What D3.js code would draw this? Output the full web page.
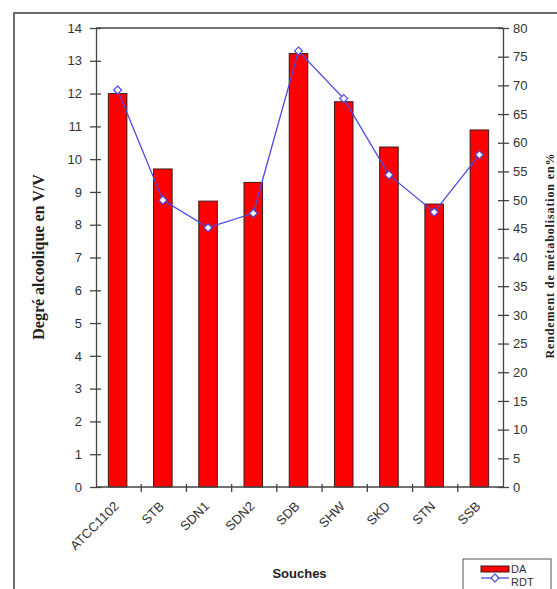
<!DOCTYPE html>
<html>
<head>
<meta charset="utf-8">
<script src="https://cdn.jsdelivr.net/npm/d3@7/dist/d3.min.js"></script>
<style>
  html, body { margin: 0; padding: 0; background: #fff; }
  svg { display: block; }
</style>
</head>
<body>
<script>
// Strains (souches), alcohol degree (DA, % V/V) and metabolisation yield (RDT, %)
const souches = ["ATCC1102", "STB", "SDN1", "SDN2", "SDB", "SHW", "SKD", "STN", "SSB"];
const da = [12.0, 9.7, 8.72, 9.29, 13.22, 11.75, 10.37, 8.63, 10.89];
const rdt = [69.2, 50.0, 45.2, 47.7, 76.0, 67.7, 54.4, 47.9, 57.9];
const leftTicks = [0, 1, 2, 3, 4, 5, 6, 7, 8, 9, 10, 11, 12, 13, 14];
const rightTicks = [0, 5, 10, 15, 20, 25, 30, 35, 40, 45, 50, 55, 60, 65, 70, 75, 80];

const W = 557, H = 589;
const plot = { left: 96, right: 503, top: 28, bottom: 487 };

const svg = d3.select("body").append("svg").attr("width", W).attr("height", H);

// outer frame
svg.append("rect")
  .attr("x", 14).attr("y", 13).attr("width", 570).attr("height", 600)
  .attr("fill", "none").attr("stroke", "#6b6b6b").attr("stroke-width", 2);

const x = d3.scaleBand().domain(souches).range([plot.left, plot.right]).padding(0);
const yL = d3.scaleLinear().domain([0, 14]).range([plot.bottom, plot.top]);
const yR = d3.scaleLinear().domain([0, 80]).range([plot.bottom, plot.top]);
const cx = d => x(d) + x.bandwidth() / 2 - 1;

// top border of plot area
svg.append("line")
  .attr("x1", plot.left).attr("x2", plot.right)
  .attr("y1", plot.top).attr("y2", plot.top)
  .attr("stroke", "#444").attr("stroke-width", 1.3);

const tickFont = "'Liberation Sans', Arial, sans-serif";

// left axis
const gL = svg.append("g").attr("transform", `translate(${plot.left},0)`)
  .call(d3.axisLeft(yL).tickValues(leftTicks).tickSize(6).tickSizeOuter(0).tickPadding(8));
gL.selectAll(".tick line").attr("x2", -6).attr("x1", 5);
// right axis
const gR = svg.append("g").attr("transform", `translate(${plot.right},0)`)
  .call(d3.axisRight(yR).tickValues(rightTicks).tickSize(6).tickSizeOuter(0).tickPadding(4));
gR.selectAll(".tick line").attr("x1", -5).attr("x2", 6);

[gL, gR].forEach(g => {
  g.select(".domain").attr("stroke", "#444").attr("stroke-width", 1.3);
  g.selectAll(".tick line").attr("stroke", "#444").attr("stroke-width", 1.3);
  g.selectAll(".tick text").attr("font-family", tickFont).attr("font-size", 13).attr("fill", "#333");
});

// bars (DA)
const barW = x.bandwidth() * 0.41;
svg.append("g").selectAll("rect").data(souches).join("rect")
  .attr("x", d => cx(d) - barW / 2)
  .attr("y", (d, i) => yL(da[i]))
  .attr("width", barW)
  .attr("height", (d, i) => yL(0) - yL(da[i]))
  .attr("fill", "#ff0000")
  .attr("stroke", "#3a1a1a").attr("stroke-width", 1);

// bottom axis (drawn over bars)
svg.append("line")
  .attr("x1", plot.left).attr("x2", plot.right)
  .attr("y1", plot.bottom).attr("y2", plot.bottom)
  .attr("stroke", "#444").attr("stroke-width", 1.3);
// category separator ticks
svg.append("g").selectAll("line").data(souches.slice(1)).join("line")
  .attr("x1", d => x(d)).attr("x2", d => x(d))
  .attr("y1", plot.bottom - 3).attr("y2", plot.bottom + 5)
  .attr("stroke", "#444").attr("stroke-width", 1.3);
// category labels
svg.append("g").selectAll("text").data(souches).join("text")
  .attr("transform", d => `translate(${cx(d) + 2},${plot.bottom + 20}) rotate(-45)`)
  .attr("text-anchor", "end")
  .attr("font-family", tickFont).attr("font-size", 13).attr("fill", "#333")
  .text(d => d);

// RDT line with diamond markers
const line = d3.line()
  .x((d, i) => cx(souches[i]))
  .y(d => yR(d));
svg.append("path").datum(rdt)
  .attr("d", line).attr("fill", "none")
  .attr("stroke", "#4a4ae0").attr("stroke-width", 1.3);
const diamond = d3.symbol().type(d3.symbolDiamond2).size(40);
svg.append("g").selectAll("path").data(rdt).join("path")
  .attr("d", diamond)
  .attr("transform", (d, i) => `translate(${cx(souches[i])},${yR(d)})`)
  .attr("fill", "#fff").attr("stroke", "#4a4ae0").attr("stroke-width", 1.2);

// axis titles
svg.append("text")
  .attr("transform", `translate(44,257) rotate(-90)`)
  .attr("text-anchor", "middle")
  .attr("font-family", "'Liberation Serif', 'Times New Roman', serif")
  .attr("font-weight", "bold").attr("font-size", 16).attr("fill", "#222")
  .text("Degré alcoolique en V/V");

svg.append("text")
  .attr("transform", `translate(554,256) rotate(-90)`)
  .attr("text-anchor", "middle")
  .attr("font-family", "'Liberation Serif', 'Times New Roman', serif")
  .attr("font-weight", "bold").attr("font-size", 12).attr("fill", "#222")
  .attr("textLength", 205).attr("lengthAdjust", "spacing")
  .text("Rendement de métabolisation en%");

svg.append("text")
  .attr("x", (plot.left + plot.right) / 2).attr("y", 578)
  .attr("text-anchor", "middle")
  .attr("font-family", tickFont).attr("font-weight", "bold").attr("font-size", 13).attr("fill", "#222")
  .text("Souches");

// legend
const lg = svg.append("g");
lg.append("rect").attr("x", 463).attr("y", 559).attr("width", 88).attr("height", 40)
  .attr("fill", "#fff").attr("stroke", "#555").attr("stroke-width", 1);
lg.append("rect").attr("x", 481).attr("y", 566).attr("width", 28).attr("height", 6)
  .attr("fill", "#ff0000").attr("stroke", "#3a1a1a").attr("stroke-width", 1);
lg.append("text").attr("x", 511).attr("y", 573)
  .attr("font-family", tickFont).attr("font-size", 11).attr("fill", "#333").text("DA");
lg.append("line").attr("x1", 481).attr("x2", 509).attr("y1", 578).attr("y2", 578)
  .attr("stroke", "#4a4ae0").attr("stroke-width", 1.3);
lg.append("path").attr("d", diamond).attr("transform", "translate(495,578)")
  .attr("fill", "#fff").attr("stroke", "#4a4ae0").attr("stroke-width", 1.2);
lg.append("text").attr("x", 511).attr("y", 586)
  .attr("font-family", tickFont).attr("font-size", 11).attr("fill", "#333").text("RDT");
</script>
</body>
</html>
